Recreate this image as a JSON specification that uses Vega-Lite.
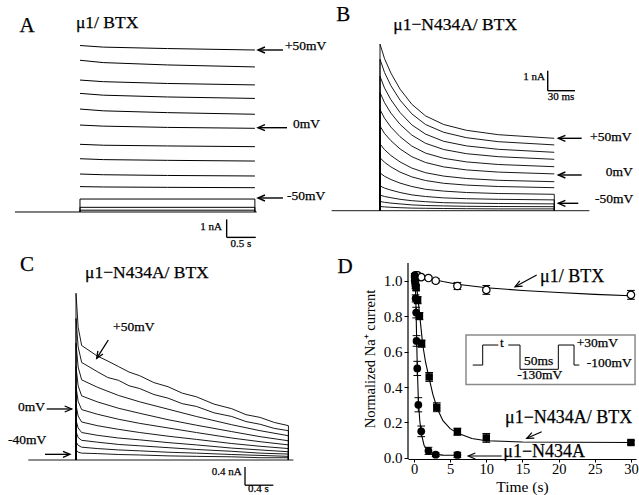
{
"$schema": "https://vega.github.io/schema/vega-lite/v6.json",
"padding": 0,
"background": "white",
"spacing": 0,
"config": {"view": {"stroke": null}, "font": "Liberation Serif",
  "axis": {"labelFont": "Liberation Serif", "titleFont": "Liberation Serif", "labelColor": "black", "titleColor": "black", "domainColor": "black", "tickColor": "black", "grid": false, "titleFontWeight": "normal", "labelFontSize": 13.5, "titleFontSize": 15, "domainWidth": 1, "tickWidth": 1}},
"datasets": {
"trA": [
{"s":1,"t":0,"v":9.25},{"s":1,"t":0.4,"v":9.16},{"s":1,"t":1.5,"v":9.08},{"s":1,"t":3.0,"v":9.0},
{"s":2,"t":0,"v":8.43},{"s":2,"t":0.4,"v":8.30},{"s":2,"t":1.5,"v":8.17},{"s":2,"t":3.0,"v":8.06},
{"s":3,"t":0,"v":7.33},{"s":3,"t":0.4,"v":7.24},{"s":3,"t":1.5,"v":7.14},{"s":3,"t":3.0,"v":7.06},
{"s":4,"t":0,"v":6.59},{"s":4,"t":0.4,"v":6.49},{"s":4,"t":1.5,"v":6.39},{"s":4,"t":3.0,"v":6.31},
{"s":5,"t":0,"v":5.72},{"s":5,"t":0.4,"v":5.62},{"s":5,"t":1.5,"v":5.52},{"s":5,"t":3.0,"v":5.43},
{"s":6,"t":0,"v":4.83},{"s":6,"t":0.4,"v":4.77},{"s":6,"t":1.5,"v":4.70},{"s":6,"t":3.0,"v":4.65},
{"s":7,"t":0,"v":3.76},{"s":7,"t":0.4,"v":3.71},{"s":7,"t":1.5,"v":3.67},{"s":7,"t":3.0,"v":3.63},
{"s":8,"t":0,"v":2.96},{"s":8,"t":0.4,"v":2.91},{"s":8,"t":1.5,"v":2.87},{"s":8,"t":3.0,"v":2.83},
{"s":9,"t":0,"v":2.11},{"s":9,"t":0.4,"v":2.07},{"s":9,"t":1.5,"v":2.03},{"s":9,"t":3.0,"v":2.0},
{"s":10,"t":0,"v":1.41},{"s":10,"t":0.4,"v":1.39},{"s":10,"t":1.5,"v":1.37},{"s":10,"t":3.0,"v":1.35},
{"s":11,"t":0,"v":0},{"s":11,"t":0,"v":0.72},{"s":11,"t":3.0,"v":0.72},{"s":11,"t":3.0,"v":0},
{"s":12,"t":0,"v":0},{"s":12,"t":0,"v":0.26},{"s":12,"t":3.0,"v":0.26},{"s":12,"t":3.0,"v":0},
{"s":13,"t":0,"v":0},{"s":13,"t":0,"v":0.1},{"s":13,"t":3.0,"v":0.1},{"s":13,"t":3.0,"v":0},
{"s":0,"t":-1.115,"v":0},{"s":0,"t":3.03,"v":0}
],
"trB": [
{"s":1,"t":0,"v":0},{"s":1,"t":0,"v":8.33},{"s":1,"t":5,"v":7.60},{"s":1,"t":12,"v":6.88},{"s":1,"t":22,"v":6.08},{"s":1,"t":35,"v":5.32},{"s":1,"t":50,"v":4.74},{"s":1,"t":70,"v":4.31},{"s":1,"t":95,"v":4.02},{"s":1,"t":130,"v":3.80},{"s":1,"t":191.5,"v":3.62},
{"s":2,"t":0,"v":0},{"s":2,"t":0,"v":7.57},{"s":2,"t":5,"v":6.91},{"s":2,"t":12,"v":6.25},{"s":2,"t":22,"v":5.53},{"s":2,"t":35,"v":4.84},{"s":2,"t":50,"v":4.31},{"s":2,"t":70,"v":3.92},{"s":2,"t":95,"v":3.65},{"s":2,"t":130,"v":3.45},{"s":2,"t":191.5,"v":3.29},
{"s":3,"t":0,"v":0},{"s":3,"t":0,"v":6.72},{"s":3,"t":5,"v":6.13},{"s":3,"t":12,"v":5.55},{"s":3,"t":22,"v":4.91},{"s":3,"t":35,"v":4.29},{"s":3,"t":50,"v":3.83},{"s":3,"t":70,"v":3.47},{"s":3,"t":95,"v":3.24},{"s":3,"t":130,"v":3.07},{"s":3,"t":191.5,"v":2.92},
{"s":4,"t":0,"v":0},{"s":4,"t":0,"v":5.91},{"s":4,"t":5,"v":5.40},{"s":4,"t":12,"v":4.88},{"s":4,"t":22,"v":4.32},{"s":4,"t":35,"v":3.78},{"s":4,"t":50,"v":3.37},{"s":4,"t":70,"v":3.06},{"s":4,"t":95,"v":2.85},{"s":4,"t":130,"v":2.70},{"s":4,"t":191.5,"v":2.57},
{"s":5,"t":0,"v":0},{"s":5,"t":0,"v":5.06},{"s":5,"t":5,"v":4.62},{"s":5,"t":12,"v":4.18},{"s":5,"t":22,"v":3.70},{"s":5,"t":35,"v":3.23},{"s":5,"t":50,"v":2.88},{"s":5,"t":70,"v":2.62},{"s":5,"t":95,"v":2.44},{"s":5,"t":130,"v":2.31},{"s":5,"t":191.5,"v":2.20},
{"s":6,"t":0,"v":0},{"s":6,"t":0,"v":4.23},{"s":6,"t":5,"v":3.86},{"s":6,"t":12,"v":3.50},{"s":6,"t":22,"v":3.09},{"s":6,"t":35,"v":2.70},{"s":6,"t":50,"v":2.41},{"s":6,"t":70,"v":2.19},{"s":6,"t":95,"v":2.04},{"s":6,"t":130,"v":1.93},{"s":6,"t":191.5,"v":1.84},
{"s":7,"t":0,"v":0},{"s":7,"t":0,"v":3.34},{"s":7,"t":5,"v":3.05},{"s":7,"t":12,"v":2.76},{"s":7,"t":22,"v":2.44},{"s":7,"t":35,"v":2.13},{"s":7,"t":50,"v":1.90},{"s":7,"t":70,"v":1.73},{"s":7,"t":95,"v":1.61},{"s":7,"t":130,"v":1.52},{"s":7,"t":191.5,"v":1.45},
{"s":8,"t":0,"v":0},{"s":8,"t":0,"v":2.65},{"s":8,"t":5,"v":2.42},{"s":8,"t":12,"v":2.19},{"s":8,"t":22,"v":1.93},{"s":8,"t":35,"v":1.69},{"s":8,"t":50,"v":1.51},{"s":8,"t":70,"v":1.37},{"s":8,"t":95,"v":1.28},{"s":8,"t":130,"v":1.21},{"s":8,"t":191.5,"v":1.15},
{"s":9,"t":0,"v":0},{"s":9,"t":0,"v":1.89},{"s":9,"t":5,"v":1.72},{"s":9,"t":12,"v":1.56},{"s":9,"t":22,"v":1.38},{"s":9,"t":35,"v":1.21},{"s":9,"t":50,"v":1.07},{"s":9,"t":70,"v":0.98},{"s":9,"t":95,"v":0.91},{"s":9,"t":130,"v":0.86},{"s":9,"t":191.5,"v":0.82},{"s":9,"t":191.5,"v":0},
{"s":10,"t":0,"v":0},{"s":10,"t":0,"v":1.24},{"s":10,"t":5,"v":1.13},{"s":10,"t":12,"v":1.03},{"s":10,"t":22,"v":0.91},{"s":10,"t":35,"v":0.79},{"s":10,"t":50,"v":0.71},{"s":10,"t":70,"v":0.64},{"s":10,"t":95,"v":0.60},{"s":10,"t":130,"v":0.57},{"s":10,"t":191.5,"v":0.54},{"s":10,"t":191.5,"v":0},
{"s":11,"t":0,"v":0},{"s":11,"t":0,"v":0.78},{"s":11,"t":5,"v":0.71},{"s":11,"t":12,"v":0.65},{"s":11,"t":22,"v":0.57},{"s":11,"t":35,"v":0.50},{"s":11,"t":50,"v":0.45},{"s":11,"t":70,"v":0.40},{"s":11,"t":95,"v":0.38},{"s":11,"t":130,"v":0.36},{"s":11,"t":191.5,"v":0.34},{"s":11,"t":191.5,"v":0},
{"s":12,"t":0,"v":0},{"s":12,"t":0,"v":0.46},{"s":12,"t":5,"v":0.42},{"s":12,"t":12,"v":0.38},{"s":12,"t":22,"v":0.34},{"s":12,"t":35,"v":0.29},{"s":12,"t":50,"v":0.26},{"s":12,"t":70,"v":0.24},{"s":12,"t":95,"v":0.22},{"s":12,"t":130,"v":0.21},{"s":12,"t":191.5,"v":0.20},{"s":12,"t":191.5,"v":0},
{"s":13,"t":0,"v":0},{"s":13,"t":0,"v":0.21},{"s":13,"t":5,"v":0.19},{"s":13,"t":12,"v":0.17},{"s":13,"t":22,"v":0.15},{"s":13,"t":35,"v":0.13},{"s":13,"t":50,"v":0.12},{"s":13,"t":70,"v":0.11},{"s":13,"t":95,"v":0.10},{"s":13,"t":130,"v":0.09},{"s":13,"t":191.5,"v":0.09},{"s":13,"t":191.5,"v":0},
{"s":0,"t":-53.1,"v":0},{"s":0,"t":230,"v":0}
],
"trC": [
{"s":1,"t":0,"v":0},{"s":1,"t":0,"v":3.64},{"s":1,"t":0.03,"v":2.9},{"s":1,"t":0.08,"v":2.5},{"s":1,"t":0.3,"v":2.27},{"s":1,"t":0.45,"v":2.16},{"s":1,"t":0.6,"v":2.04},{"s":1,"t":0.75,"v":1.92},{"s":1,"t":0.9,"v":1.84},{"s":1,"t":1.1,"v":1.69},{"s":1,"t":1.3,"v":1.60},{"s":1,"t":1.5,"v":1.46},{"s":1,"t":1.7,"v":1.38},{"s":1,"t":1.95,"v":1.22},{"s":1,"t":2.2,"v":1.12},{"s":1,"t":2.4,"v":0.99},{"s":1,"t":2.6,"v":0.93},{"s":1,"t":2.8,"v":0.82},{"s":1,"t":3.0,"v":0.75},{"s":1,"t":3.0,"v":0},
{"s":2,"t":0,"v":0},{"s":2,"t":0,"v":3.09},{"s":2,"t":0.03,"v":2.47},{"s":2,"t":0.08,"v":2.13},{"s":2,"t":0.3,"v":1.93},{"s":2,"t":0.45,"v":1.80},{"s":2,"t":0.6,"v":1.74},{"s":2,"t":0.75,"v":1.62},{"s":2,"t":0.9,"v":1.56},{"s":2,"t":1.1,"v":1.43},{"s":2,"t":1.3,"v":1.35},{"s":2,"t":1.5,"v":1.23},{"s":2,"t":1.7,"v":1.17},{"s":2,"t":1.95,"v":1.03},{"s":2,"t":2.2,"v":0.95},{"s":2,"t":2.4,"v":0.84},{"s":2,"t":2.6,"v":0.78},{"s":2,"t":2.8,"v":0.69},{"s":2,"t":3.0,"v":0.64},{"s":2,"t":3.0,"v":0},
{"s":3,"t":0,"v":0},{"s":3,"t":0,"v":2.55},{"s":3,"t":0.03,"v":2.03},{"s":3,"t":0.08,"v":1.75},{"s":3,"t":0.3,"v":1.59},{"s":3,"t":0.6,"v":1.41},{"s":3,"t":0.9,"v":1.27},{"s":3,"t":1.3,"v":1.11},{"s":3,"t":1.7,"v":0.95},{"s":3,"t":2.2,"v":0.77},{"s":3,"t":2.6,"v":0.64},{"s":3,"t":3.0,"v":0.53},{"s":3,"t":3.0,"v":0},
{"s":4,"t":0,"v":0},{"s":4,"t":0,"v":2.04},{"s":4,"t":0.03,"v":1.62},{"s":4,"t":0.08,"v":1.40},{"s":4,"t":0.3,"v":1.27},{"s":4,"t":0.6,"v":1.13},{"s":4,"t":0.9,"v":1.02},{"s":4,"t":1.3,"v":0.88},{"s":4,"t":1.7,"v":0.76},{"s":4,"t":2.2,"v":0.62},{"s":4,"t":2.6,"v":0.51},{"s":4,"t":3.0,"v":0.42},{"s":4,"t":3.0,"v":0},
{"s":5,"t":0,"v":0},{"s":5,"t":0,"v":1.60},{"s":5,"t":0.03,"v":1.28},{"s":5,"t":0.08,"v":1.10},{"s":5,"t":0.3,"v":1.00},{"s":5,"t":0.6,"v":0.89},{"s":5,"t":0.9,"v":0.80},{"s":5,"t":1.3,"v":0.70},{"s":5,"t":1.7,"v":0.60},{"s":5,"t":2.2,"v":0.48},{"s":5,"t":2.6,"v":0.40},{"s":5,"t":3.0,"v":0.33},{"s":5,"t":3.0,"v":0},
{"s":6,"t":0,"v":0},{"s":6,"t":0,"v":1.20},{"s":6,"t":0.03,"v":0.96},{"s":6,"t":0.08,"v":0.83},{"s":6,"t":0.3,"v":0.75},{"s":6,"t":0.6,"v":0.67},{"s":6,"t":0.9,"v":0.60},{"s":6,"t":1.3,"v":0.52},{"s":6,"t":1.7,"v":0.45},{"s":6,"t":2.2,"v":0.36},{"s":6,"t":2.6,"v":0.30},{"s":6,"t":3.0,"v":0.25},{"s":6,"t":3.0,"v":0},
{"s":7,"t":0,"v":0},{"s":7,"t":0,"v":0.87},{"s":7,"t":0.03,"v":0.70},{"s":7,"t":0.08,"v":0.60},{"s":7,"t":0.3,"v":0.54},{"s":7,"t":0.6,"v":0.48},{"s":7,"t":0.9,"v":0.44},{"s":7,"t":1.3,"v":0.38},{"s":7,"t":1.7,"v":0.33},{"s":7,"t":2.2,"v":0.26},{"s":7,"t":2.6,"v":0.22},{"s":7,"t":3.0,"v":0.18},{"s":7,"t":3.0,"v":0},
{"s":8,"t":0,"v":0},{"s":8,"t":0,"v":0.62},{"s":8,"t":0.03,"v":0.49},{"s":8,"t":0.08,"v":0.43},{"s":8,"t":0.3,"v":0.39},{"s":8,"t":0.6,"v":0.34},{"s":8,"t":0.9,"v":0.31},{"s":8,"t":1.3,"v":0.27},{"s":8,"t":1.7,"v":0.23},{"s":8,"t":2.2,"v":0.19},{"s":8,"t":2.6,"v":0.15},{"s":8,"t":3.0,"v":0.13},{"s":8,"t":3.0,"v":0},
{"s":9,"t":0,"v":0},{"s":9,"t":0,"v":0.40},{"s":9,"t":0.03,"v":0.32},{"s":9,"t":0.08,"v":0.28},{"s":9,"t":0.3,"v":0.25},{"s":9,"t":0.6,"v":0.22},{"s":9,"t":0.9,"v":0.20},{"s":9,"t":1.3,"v":0.17},{"s":9,"t":1.7,"v":0.15},{"s":9,"t":2.2,"v":0.12},{"s":9,"t":2.6,"v":0.10},{"s":9,"t":3.0,"v":0.08},{"s":9,"t":3.0,"v":0},
{"s":10,"t":0,"v":0},{"s":10,"t":0,"v":0.22},{"s":10,"t":0.03,"v":0.17},{"s":10,"t":0.08,"v":0.15},{"s":10,"t":0.3,"v":0.14},{"s":10,"t":0.6,"v":0.12},{"s":10,"t":0.9,"v":0.11},{"s":10,"t":1.3,"v":0.09},{"s":10,"t":1.7,"v":0.08},{"s":10,"t":2.2,"v":0.07},{"s":10,"t":2.6,"v":0.05},{"s":10,"t":3.0,"v":0.05},{"s":10,"t":3.0,"v":0},
{"s":0,"t":-0.674,"v":0},{"s":0,"t":3.07,"v":0}
],
"seg": [
{"p":"A","t":3.053,"v":9.0,"t2":3.482,"v2":9.0},
{"p":"A","t":3.053,"v":4.683,"t2":3.551,"v2":4.683},
{"p":"A","t":3.053,"v":0.778,"t2":3.482,"v2":0.778},
{"p":"A","t":2.516,"v":-0.41,"t2":2.516,"v2":-1.41},
{"p":"A","t":2.516,"v":-1.41,"t2":3.016,"v2":-1.41},
{"p":"B","t":196,"v":3.62,"t2":221.6,"v2":3.62},
{"p":"B","t":196,"v":1.785,"t2":221.6,"v2":1.785},
{"p":"B","t":196,"v":0.37,"t2":217.9,"v2":0.37},
{"p":"B","t":184.3,"v":7.0,"t2":184.3,"v2":6.0},
{"p":"B","t":184.3,"v":6.0,"t2":214.3,"v2":6.0},
{"p":"C","t":0.456,"v":2.62,"t2":0.292,"v2":2.22},
{"p":"C","t":-0.414,"v":1.114,"t2":-0.061,"v2":1.114},
{"p":"C","t":-0.438,"v":0.124,"t2":-0.085,"v2":0.124},
{"p":"C","t":2.387,"v":-0.15,"t2":2.387,"v2":-0.55},
{"p":"C","t":2.387,"v":-0.55,"t2":2.787,"v2":-0.55},
{"p":"D","t":16.97,"v":1.032,"t2":13.97,"v2":0.966},
{"p":"D","t":17.66,"v":0.148,"t2":15.59,"v2":0.111},
{"p":"D","t":12.13,"v":0.011,"t2":7.51,"v2":0.011},
{"p":"D","t":-0.83,"v":-0.006,"t2":-0.83,"v2":1.1}
],
"head": [
{"p":"A","t":3.053,"v":9.0,"a":0},
{"p":"A","t":3.053,"v":4.683,"a":0},
{"p":"A","t":3.053,"v":0.778,"a":0},
{"p":"B","t":196,"v":3.62,"a":0},
{"p":"B","t":196,"v":1.785,"a":0},
{"p":"B","t":196,"v":0.37,"a":0},
{"p":"C","t":0.292,"v":2.22,"a":-57.7},
{"p":"C","t":-0.061,"v":1.114,"a":180},
{"p":"C","t":-0.085,"v":0.124,"a":180},
{"p":"D","t":13.97,"v":0.966,"a":-28},
{"p":"D","t":15.59,"v":0.111,"a":-24},
{"p":"D","t":7.51,"v":0.011,"a":0}
],
"txt": [
{"p":"A","k":"L","t":-0.909,"v":10.33,"label":"A"},
{"p":"A","k":"T","t":-0.069,"v":10.5,"label":"μ1/ BTX"},
{"p":"A","k":"V","t":3.516,"v":9.22,"label":"+50mV"},
{"p":"A","k":"V","t":3.654,"v":4.89,"label":"0mV"},
{"p":"A","k":"V","t":3.551,"v":0.889,"label":"-50mV"},
{"p":"A","k":"SR","t":2.436,"v":-0.833,"label":"1 nA"},
{"p":"A","k":"SC","t":2.762,"v":-1.8,"label":"0.5 s"},
{"p":"B","k":"L","t":-40.3,"v":9.785,"label":"B"},
{"p":"B","k":"T","t":14.6,"v":9.29,"label":"μ1−N434A/ BTX"},
{"p":"B","k":"V","t":230.8,"v":3.7,"label":"+50mV"},
{"p":"B","k":"V","t":248,"v":1.95,"label":"0mV"},
{"p":"B","k":"V","t":236.3,"v":0.57,"label":"-50mV"},
{"p":"B","k":"SR","t":181.3,"v":6.7,"label":"1 nA"},
{"p":"B","k":"SC","t":199,"v":5.7,"label":"30 ms"},
{"p":"C","k":"L","t":-0.692,"v":4.258,"label":"C"},
{"p":"C","k":"T","t":0.127,"v":4.083,"label":"μ1−N434A/ BTX"},
{"p":"C","k":"V","t":0.523,"v":2.91,"label":"+50mV"},
{"p":"C","k":"V","t":-0.819,"v":1.164,"label":"0mV"},
{"p":"C","k":"V","t":-0.96,"v":0.437,"label":"-40mV"},
{"p":"C","k":"SR","t":2.34,"v":-0.27,"label":"0.4 nA"},
{"p":"C","k":"SC","t":2.575,"v":-0.64,"label":"0.4 s"},
{"p":"D","k":"L","t":-9.54,"v":1.077,"label":"D"},
{"p":"D","k":"DT","t":17.43,"v":1.023,"label":"μ1/ BTX"},
{"p":"D","k":"DT","t":12.59,"v":0.223,"label":"μ1−N434A/ BTX"},
{"p":"D","k":"DT","t":12.35,"v":0.036,"label":"μ1−N434A"},
{"p":"D","k":"I","t":11.9,"v":0.647,"label":"t"},
{"p":"D","k":"I","t":22.5,"v":0.647,"label":"+30mV"},
{"p":"D","k":"I","t":23.89,"v":0.534,"label":"-100mV"},
{"p":"D","k":"I","t":15.21,"v":0.545,"label":"50ms"},
{"p":"D","k":"I","t":14.29,"v":0.466,"label":"-130mV"}
],
"pts": [
{"g":"o","t":0.2,"v":1.03,"lo":1.02,"hi":1.04},
{"g":"o","t":0.5,"v":1.03,"lo":1.02,"hi":1.04},
{"g":"o","t":1,"v":1.02,"lo":1.01,"hi":1.03},
{"g":"o","t":2,"v":1.015,"lo":1.005,"hi":1.025},
{"g":"o","t":3,"v":1.0,"lo":0.988,"hi":1.012},
{"g":"o","t":6,"v":0.97,"lo":0.95,"hi":0.99},
{"g":"o","t":10,"v":0.948,"lo":0.923,"hi":0.973},
{"g":"o","t":30,"v":0.92,"lo":0.895,"hi":0.945},
{"g":"s","t":0.1,"v":1.01,"lo":1.0,"hi":1.02},
{"g":"s","t":0.2,"v":0.99,"lo":0.98,"hi":1.0},
{"g":"s","t":0.3,"v":0.96,"lo":0.945,"hi":0.975},
{"g":"s","t":0.5,"v":0.89,"lo":0.87,"hi":0.91},
{"g":"s","t":0.75,"v":0.80,"lo":0.78,"hi":0.82},
{"g":"s","t":1.05,"v":0.645,"lo":0.625,"hi":0.665},
{"g":"s","t":2.1,"v":0.457,"lo":0.432,"hi":0.482},
{"g":"s","t":3.15,"v":0.286,"lo":0.261,"hi":0.311},
{"g":"s","t":6,"v":0.148,"lo":0.128,"hi":0.168},
{"g":"s","t":10,"v":0.113,"lo":0.088,"hi":0.138},
{"g":"s","t":30,"v":0.087,"lo":0.077,"hi":0.097},
{"g":"c","t":0.1,"v":1.03,"lo":1.02,"hi":1.04},
{"g":"c","t":0.15,"v":1.0,"lo":0.985,"hi":1.015},
{"g":"c","t":0.2,"v":0.97,"lo":0.955,"hi":0.985},
{"g":"c","t":0.22,"v":0.9,"lo":0.88,"hi":0.92},
{"g":"c","t":0.3,"v":0.82,"lo":0.79,"hi":0.85},
{"g":"c","t":0.35,"v":0.66,"lo":0.63,"hi":0.69},
{"g":"c","t":0.45,"v":0.505,"lo":0.465,"hi":0.545},
{"g":"c","t":0.6,"v":0.3,"lo":0.26,"hi":0.34},
{"g":"c","t":1.0,"v":0.15,"lo":0.12,"hi":0.18},
{"g":"c","t":2,"v":0.04,"lo":0.02,"hi":0.06},
{"g":"c","t":3,"v":0.018,"lo":0.008,"hi":0.028},
{"g":"c","t":6,"v":0.017,"lo":0.002,"hi":0.032}
],
"fit": [
{"g":"o","t":0,"v":1.035},{"g":"o","t":1,"v":1.022},{"g":"o","t":2,"v":1.012},{"g":"o","t":4,"v":0.995},{"g":"o","t":6,"v":0.98},{"g":"o","t":10,"v":0.96},{"g":"o","t":15,"v":0.945},{"g":"o","t":20,"v":0.933},{"g":"o","t":25,"v":0.923},{"g":"o","t":30,"v":0.915},
{"g":"s","t":0,"v":1.03},{"g":"s","t":0.3,"v":0.99},{"g":"s","t":0.55,"v":0.90},{"g":"s","t":0.8,"v":0.80},{"g":"s","t":1.2,"v":0.64},{"g":"s","t":1.6,"v":0.54},{"g":"s","t":2.2,"v":0.43},{"g":"s","t":2.6,"v":0.36},{"g":"s","t":3.2,"v":0.28},{"g":"s","t":4,"v":0.21},{"g":"s","t":5,"v":0.165},{"g":"s","t":6,"v":0.14},{"g":"s","t":8,"v":0.11},{"g":"s","t":10,"v":0.097},{"g":"s","t":15,"v":0.09},{"g":"s","t":30,"v":0.087},
{"g":"c","t":0,"v":1.03},{"g":"c","t":0.15,"v":1.0},{"g":"c","t":0.25,"v":0.9},{"g":"c","t":0.35,"v":0.7},{"g":"c","t":0.45,"v":0.52},{"g":"c","t":0.6,"v":0.33},{"g":"c","t":0.8,"v":0.21},{"g":"c","t":1.0,"v":0.14},{"g":"c","t":1.4,"v":0.07},{"g":"c","t":2,"v":0.035},{"g":"c","t":3,"v":0.02},{"g":"c","t":4,"v":0.016},{"g":"c","t":6,"v":0.015}
],
"proto": [
{"g":"p1","t":8.12,"v":0.524},{"g":"p1","t":9.5,"v":0.524},{"g":"p1","t":9.5,"v":0.637},{"g":"p1","t":11.66,"v":0.637},
{"g":"p2","t":13.04,"v":0.637},{"g":"p2","t":14.66,"v":0.637},{"g":"p2","t":14.66,"v":0.5},{"g":"p2","t":19.96,"v":0.5},{"g":"p2","t":19.96,"v":0.637},{"g":"p2","t":22.13,"v":0.637},{"g":"p2","t":22.13,"v":0.524},{"g":"p2","t":22.86,"v":0.524}
],
"box": [{"t":7.19,"t2":30.57,"v":0.694,"v2":0.415}]
},
"vconcat": [
{"hconcat": [
 {"width": 320, "height": 253,
  "encoding": {"x": {"field":"t","type":"quantitative","scale":{"domain":[-1.372,4.117],"nice":false,"zero":false},"axis":null},
               "y": {"field":"v","type":"quantitative","scale":{"domain":[-2.278,11.778],"nice":false,"zero":false},"axis":null}},
  "layer": [
   {"data":{"name":"trA"},"mark":{"type":"line","color":"black","strokeWidth":1},"encoding":{"detail":{"field":"s","type":"nominal"},"order":{"value":null}}},
   {"data":{"name":"seg"},"transform":[{"filter":"datum.p=='A'"}],"mark":{"type":"rule","color":"black","strokeWidth":1.4},"encoding":{"x2":{"field":"t2"},"y2":{"field":"v2"}}},
   {"data":{"name":"head"},"transform":[{"filter":"datum.p=='A'"}],"mark":{"type":"point","shape":"M1.75,-0.75L0,0L1.75,0.75","filled":false,"stroke":"black","strokeWidth":1.4,"size":64,"opacity":1},"encoding":{"angle":{"field":"a","type":"quantitative","scale":null}}},
   {"data":{"name":"txt"},"transform":[{"filter":"datum.p=='A'"}],"mark":{"type":"text","color":"black","stroke":"black","strokeWidth":0.25,"baseline":"middle","align":{"expr":"datum.k=='SR'?'right':(datum.k=='L'||datum.k=='SC')?'center':'left'"},"fontSize":{"expr":"datum.k=='L'?21:datum.k=='T'?17.5:datum.k=='DT'?18:datum.k=='V'?13.5:datum.k=='I'?13.5:11"}},
    "encoding":{"text":{"field":"label"}}}
  ]},
 {"width": 319, "height": 253,
  "encoding": {"x": {"field":"t","type":"quantitative","scale":{"domain":[-65.93,284.6],"nice":false,"zero":false},"axis":null},
               "y": {"field":"v","type":"quantitative","scale":{"domain":[-2.115,10.535],"nice":false,"zero":false},"axis":null}},
  "layer": [
   {"data":{"name":"trB"},"mark":{"type":"line","color":"black","strokeWidth":0.9},"encoding":{"detail":{"field":"s","type":"nominal"},"order":{"value":null}}},
   {"data":{"name":"seg"},"transform":[{"filter":"datum.p=='B'"}],"mark":{"type":"rule","color":"black","strokeWidth":1.4},"encoding":{"x2":{"field":"t2"},"y2":{"field":"v2"}}},
   {"data":{"name":"head"},"transform":[{"filter":"datum.p=='B'"}],"mark":{"type":"point","shape":"M1.75,-0.75L0,0L1.75,0.75","filled":false,"stroke":"black","strokeWidth":1.4,"size":64,"opacity":1},"encoding":{"angle":{"field":"a","type":"quantitative","scale":null}}},
   {"data":{"name":"txt"},"transform":[{"filter":"datum.p=='B'"}],"mark":{"type":"text","color":"black","stroke":"black","strokeWidth":0.25,"baseline":"middle","align":{"expr":"datum.k=='SR'?'right':(datum.k=='L'||datum.k=='SC')?'center':'left'"},"fontSize":{"expr":"datum.k=='L'?21:datum.k=='T'?17.5:datum.k=='DT'?18:datum.k=='V'?13.5:datum.k=='I'?13.5:11"}},
    "encoding":{"text":{"field":"label"}}}
  ]}
 ], "spacing": 0, "bounds": "flush", "resolve": {"scale": {"x":"independent","y":"independent"}}},
{"hconcat": [
 {"width": 408, "height": 242,
  "encoding": {"x": {"field":"t","type":"quantitative","scale":{"domain":[-1.0734,4.689],"nice":false,"zero":false},"axis":null},
               "y": {"field":"v","type":"quantitative","scale":{"domain":[-0.873,4.41],"nice":false,"zero":false},"axis":null}},
  "layer": [
   {"data":{"name":"trC"},"mark":{"type":"line","color":"black","strokeWidth":0.9},"encoding":{"detail":{"field":"s","type":"nominal"},"order":{"value":null}}},
   {"data":{"name":"seg"},"transform":[{"filter":"datum.p=='C'"}],"mark":{"type":"rule","color":"black","strokeWidth":1.3},"encoding":{"x2":{"field":"t2"},"y2":{"field":"v2"}}},
   {"data":{"name":"head"},"transform":[{"filter":"datum.p=='C'"}],"mark":{"type":"point","shape":"M1.75,-0.75L0,0L1.75,0.75","filled":false,"stroke":"black","strokeWidth":1.3,"size":64,"opacity":1},"encoding":{"angle":{"field":"a","type":"quantitative","scale":null}}},
   {"data":{"name":"txt"},"transform":[{"filter":"datum.p=='C'"}],"mark":{"type":"text","color":"black","stroke":"black","strokeWidth":0.25,"baseline":"middle","align":{"expr":"datum.k=='SR'?'right':(datum.k=='L'||datum.k=='SC')?'center':'left'"},"fontSize":{"expr":"datum.k=='L'?21:datum.k=='T'?17.5:datum.k=='DT'?18:datum.k=='V'?13.5:datum.k=='I'?13.5:11"}},
    "encoding":{"text":{"field":"label"}}}
  ]},
 {"width": 228, "height": 201,
  "encoding": {"x": {"field":"t","type":"quantitative","scale":{"domain":[-0.83,30.7],"nice":false,"zero":false},
                     "axis":{"values":[0,5,10,15,20,25,30],"title":"Time (s)","tickSize":3,"labelPadding":0,"titlePadding":4,"labelFontSize":14.5,"titleFontSize":15.5}},
               "y": {"field":"v","type":"quantitative","scale":{"domain":[-0.006,1.128],"nice":false,"zero":false},
                     "axis":{"values":[0,0.2,0.4,0.6,0.8,1.0],"format":".1f","title":"Normalized Na⁺ current","domain":false,"tickSize":4,"labelPadding":2,"titlePadding":6,"labelFontSize":15,"titleFontSize":14.5}}},
  "layer": [
   {"data":{"name":"fit"},"mark":{"type":"line","color":"black","strokeWidth":1.1},"encoding":{"detail":{"field":"g","type":"nominal"}}},
   {"data":{"name":"pts"},"mark":{"type":"rule","color":"black","strokeWidth":1},"encoding":{"y":{"field":"lo","type":"quantitative","scale":{"domain":[-0.006,1.128],"nice":false,"zero":false}},"y2":{"field":"hi"}}},
   {"data":{"name":"pts"},"mark":{"type":"point","shape":"stroke","color":"black","strokeWidth":1,"size":60,"opacity":1},"encoding":{"y":{"field":"lo","type":"quantitative","scale":{"domain":[-0.006,1.128],"nice":false,"zero":false}}}},
   {"data":{"name":"pts"},"mark":{"type":"point","shape":"stroke","color":"black","strokeWidth":1,"size":60,"opacity":1},"encoding":{"y":{"field":"hi","type":"quantitative","scale":{"domain":[-0.006,1.128],"nice":false,"zero":false}}}},
   {"data":{"name":"pts"},"transform":[{"filter":"datum.g=='o'"}],"mark":{"type":"point","shape":"circle","filled":true,"fill":"white","stroke":"black","strokeWidth":1.2,"size":55,"opacity":1}},
   {"data":{"name":"pts"},"transform":[{"filter":"datum.g=='s'"}],"mark":{"type":"point","shape":"square","filled":true,"color":"black","size":55,"opacity":1}},
   {"data":{"name":"pts"},"transform":[{"filter":"datum.g=='c'"}],"mark":{"type":"point","shape":"circle","filled":true,"color":"black","size":60,"opacity":1}},
   {"data":{"name":"box"},"mark":{"type":"rect","fill":null,"stroke":"#8a8a8a","strokeWidth":1.5},"encoding":{"x2":{"field":"t2"},"y2":{"field":"v2"}}},
   {"data":{"name":"proto"},"mark":{"type":"line","color":"black","strokeWidth":1},"encoding":{"detail":{"field":"g","type":"nominal"},"order":{"value":null}}},
   {"data":{"name":"seg"},"transform":[{"filter":"datum.p=='D'"}],"mark":{"type":"rule","color":"black","strokeWidth":1.2},"encoding":{"x2":{"field":"t2"},"y2":{"field":"v2"}}},
   {"data":{"name":"head"},"transform":[{"filter":"datum.p=='D'"}],"mark":{"type":"point","shape":"M1.75,-0.75L0,0L1.75,0.75","filled":false,"stroke":"black","strokeWidth":1.2,"size":64,"opacity":1},"encoding":{"angle":{"field":"a","type":"quantitative","scale":null}}},
   {"data":{"name":"txt"},"transform":[{"filter":"datum.p=='D'"}],"mark":{"type":"text","color":"black","stroke":"black","strokeWidth":0.25,"baseline":"middle","align":{"expr":"datum.k=='SR'?'right':(datum.k=='L'||datum.k=='SC')?'center':'left'"},"fontSize":{"expr":"datum.k=='L'?21:datum.k=='T'?17.5:datum.k=='DT'?18:datum.k=='V'?13.5:datum.k=='I'?13.5:11"}},
    "encoding":{"text":{"field":"label"}}}
  ]}
 ], "spacing": 0, "bounds": "flush", "resolve": {"scale": {"x":"independent","y":"independent"}}}
],
"resolve": {"scale": {"x":"independent","y":"independent"}}
}
